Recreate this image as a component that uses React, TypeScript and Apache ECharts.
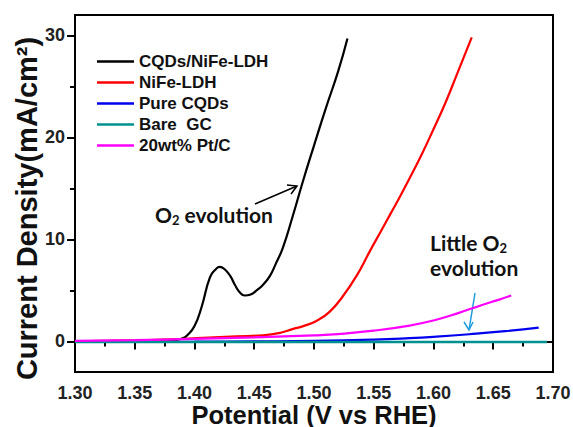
import React, { useEffect, useRef } from "react";
import * as echarts from "echarts";

const cqdsNiFeX = [1.30, 1.33, 1.36, 1.38, 1.385, 1.39, 1.394, 1.40, 1.406, 1.413, 1.418, 1.421, 1.425, 1.43, 1.434, 1.438, 1.442, 1.447, 1.452, 1.457, 1.463, 1.468, 1.474, 1.482, 1.491, 1.50, 1.51, 1.52, 1.528];
const cqdsNiFeY = [0.0, 0.0, 0.02, 0.05, 0.15, 0.3, 0.6, 1.5, 3.4, 6.3, 7.1, 7.3, 7.1, 6.4, 5.5, 4.8, 4.5, 4.6, 5.0, 5.5, 6.4, 7.6, 9.2, 12.2, 15.8, 19.2, 22.9, 26.4, 29.7];

const nifeX = [1.30, 1.35, 1.38, 1.407, 1.435, 1.457, 1.472, 1.482, 1.491, 1.502, 1.513, 1.524, 1.536, 1.547, 1.556, 1.564, 1.572, 1.58, 1.59, 1.60, 1.61, 1.62, 1.632];
const nifeY = [0.0, 0.1, 0.2, 0.35, 0.5, 0.6, 0.85, 1.2, 1.5, 2.0, 2.9, 4.4, 6.5, 8.9, 10.8, 12.5, 14.2, 16.0, 18.3, 20.8, 23.4, 26.3, 29.8];

const pureX = [1.30, 1.40, 1.45, 1.50, 1.55, 1.58, 1.60, 1.63, 1.66, 1.688];
const pureY = [-0.05, -0.03, 0.0, 0.05, 0.18, 0.32, 0.45, 0.7, 1.0, 1.35];

const bareX = [1.30, 1.40, 1.50, 1.60, 1.695];
const bareY = [-0.05, -0.05, -0.05, -0.05, -0.05];

const ptcX = [1.30, 1.35, 1.40, 1.45, 1.50, 1.52, 1.55, 1.58, 1.60, 1.62, 1.64, 1.655, 1.665];
const ptcY = [0.05, 0.12, 0.25, 0.4, 0.6, 0.72, 1.05, 1.55, 2.05, 2.75, 3.55, 4.1, 4.5];

const seriesNames = ["CQDs/NiFe-LDH", "NiFe-LDH", "Pure CQDs", "Bare  GC", "20wt% Pt/C"];
const seriesColors = ["#000000", "#ff0000", "#0000ee", "#009090", "#ff00ff"];
const yMajorTicks = [0, 10, 20, 30];
const yMinorTicks = [5, 15, 25];

const zip = (xs: number[], ys: number[]) => xs.map((x, i) => [x, ys[i]]);

export default function App() {
  const ref = useRef<HTMLDivElement>(null);
  useEffect(() => {
    if (!ref.current) return;
    const chart = echarts.init(ref.current, null, { renderer: "svg" });
    const data = [
      zip(cqdsNiFeX, cqdsNiFeY),
      zip(nifeX, nifeY),
      zip(pureX, pureY),
      zip(bareX, bareY),
      zip(ptcX, ptcY),
    ];
    const font = "'Liberation Sans', Arial, sans-serif";
    const annoFont = "Lato, 'Open Sans', sans-serif";
    chart.setOption({
      animation: false,
      backgroundColor: "#ffffff",
      grid: {
        left: 75,
        right: 20,
        top: 15,
        bottom: 55,
        outerBoundsMode: "none",
        containLabel: false,
        show: true,
        borderColor: "#000",
        borderWidth: 2,
      },
      legend: {
        orient: "vertical",
        left: 92,
        top: 48,
        icon: "rect",
        itemWidth: 37,
        itemHeight: 2.5,
        itemGap: 4,
        data: seriesNames,
        textStyle: { fontFamily: font, fontWeight: "bold", fontSize: 17, color: "#111", lineHeight: 17 },
      },
      xAxis: {
        type: "value",
        min: 1.3,
        max: 1.7,
        interval: 0.05,
        name: "Potential (V vs RHE)",
        nameLocation: "middle",
        nameGap: 30,
        nameMoveOverlap: false,
        nameTextStyle: { fontFamily: font, fontWeight: "bold", fontSize: 25.5, color: "#111" },
        axisLine: { show: true, lineStyle: { color: "#000", width: 2 } },
        axisTick: { show: true, length: 8, lineStyle: { color: "#000", width: 2 } },
        minorTick: { show: true, splitNumber: 2, length: 5, lineStyle: { color: "#000", width: 2 } },
        splitLine: { show: false },
        minorSplitLine: { show: false },
        axisLabel: {
          fontFamily: font,
          fontWeight: "bold",
          fontSize: 18,
          color: "#222",
          margin: 12,
          formatter: (v: number) => v.toFixed(2),
        },
      },
      yAxis: [
        {
          type: "value",
          min: -3,
          max: 32,
          name: "Current Density(mA/cm²)",
          nameLocation: "middle",
          nameGap: 34,
          nameMoveOverlap: false,
          nameTextStyle: {
            fontFamily: font,
            fontWeight: "bold",
            fontSize: 29,
            color: "#111",
            padding: [0, 30, 0, 0],
          },
          axisLine: { show: true, lineStyle: { color: "#000", width: 2 } },
          axisTick: { show: true, length: 8, customValues: yMajorTicks, lineStyle: { color: "#000", width: 2 } },
          splitLine: { show: false },
          axisLabel: {
            fontFamily: font,
            fontWeight: "bold",
            fontSize: 18,
            color: "#222",
            margin: 10,
            customValues: yMajorTicks,
          },
        },
        {
          type: "value",
          min: -3,
          max: 32,
          position: "left",
          axisLine: { show: false },
          axisTick: { show: true, length: 5, customValues: yMinorTicks, lineStyle: { color: "#000", width: 2 } },
          axisLabel: { show: false },
          splitLine: { show: false },
        },
      ],
      series: data.map((d, i) => ({
        name: seriesNames[i],
        type: "line",
        data: d,
        yAxisIndex: 0,
        symbol: "none",
        smooth: 0.5,
        lineStyle: { color: seriesColors[i], width: i === 3 ? 2.5 : 2.2 },
        itemStyle: { color: seriesColors[i] },
      })),
      graphic: [
        {
          type: "text",
          left: 155,
          top: 204,
          style: {
            text: "{a|O}{b|2}{a| evolution}",
            rich: {
              a: { fontFamily: annoFont, fontWeight: "bold", fontSize: 21, fill: "#111" },
              b: { fontFamily: annoFont, fontWeight: "bold", fontSize: 13, fill: "#111", padding: [10, 0, 0, 0] },
            },
          },
        },
        {
          type: "text",
          left: 430,
          top: 231,
          style: {
            text: "{a|Little O}{b|2}\n{a|evolution}",
            rich: {
              a: { fontFamily: annoFont, fontWeight: "bold", fontSize: 21, fill: "#111", lineHeight: 25 },
              b: { fontFamily: annoFont, fontWeight: "bold", fontSize: 13, fill: "#111", padding: [10, 0, 0, 0], lineHeight: 25 },
            },
          },
        },
        {
          type: "polyline",
          shape: { points: [[255, 204], [297, 186]] },
          style: { stroke: "#000", lineWidth: 1.5, fill: null },
        },
        {
          type: "polyline",
          shape: { points: [[287, 185], [297, 186], [291, 194]] },
          style: { stroke: "#000", lineWidth: 1.5, fill: null },
        },
        {
          type: "polyline",
          shape: { points: [[475, 293], [469, 330]] },
          style: { stroke: "#1e9be0", lineWidth: 1.5, fill: null },
        },
        {
          type: "polyline",
          shape: { points: [[464, 322], [469, 330], [473, 322]] },
          style: { stroke: "#1e9be0", lineWidth: 1.5, fill: null },
        },
      ],
    });
    return () => chart.dispose();
  }, []);
  return (
    <div
      ref={ref}
      style={{ position: "fixed", left: 0, top: 0, width: 573, height: 427, background: "#fff" }}
    />
  );
}
